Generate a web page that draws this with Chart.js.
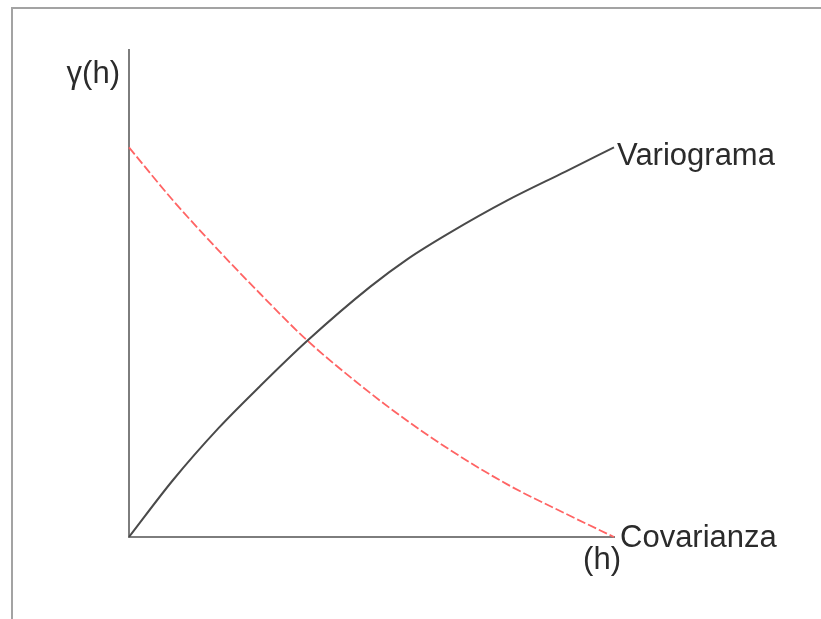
<!DOCTYPE html>
<html>
<head>
<meta charset="utf-8">
<script src="https://cdn.jsdelivr.net/npm/chart.js@4/dist/chart.umd.min.js"></script>
<style>
  html, body { margin: 0; padding: 0; background: #ffffff; }
  #wrap { position: relative; width: 821px; height: 619px; }
</style>
</head>
<body>
<div id="wrap"><canvas id="vario"></canvas></div>
<script>
// lag distance (h)
const lagH = [0, 0.9, 1.85, 2.7, 3.67, 4.97, 5.75, 6.6, 7.8, 9.0, 10];
// semivariance gamma(h)
const variograma = [0, 1.45, 2.8, 3.87, 5.03, 6.42, 7.14, 7.8, 8.64, 9.38, 10];
// covariance C(h)
const covarianza = [10, 8.65, 7.35, 6.25, 5.05, 3.7, 2.97, 2.25, 1.35, 0.6, 0];

const toPoints = (ys) => ys.map((y, i) => ({ x: lagH[i], y: y }));

const FONT = "31px 'Liberation Sans', Arial, sans-serif";
const TEXT = "#2b2b2b";

const labelsPlugin = {
  id: "curveLabels",
  beforeDraw: function (chart) {
    const ctx = chart.ctx;
    // page frame (top and left edges only)
    ctx.save();
    ctx.strokeStyle = "#a3a3a3";
    ctx.lineWidth = 2;
    ctx.beginPath();
    ctx.moveTo(12, chart.height);
    ctx.lineTo(12, 8);
    ctx.lineTo(chart.width, 8);
    ctx.stroke();
    ctx.restore();
  },
  afterDraw: function (chart) {
    const ctx = chart.ctx;
    const xs = chart.scales.x;
    const ys = chart.scales.y;
    const n = lagH.length - 1;
    const endX = xs.getPixelForValue(lagH[n]);
    ctx.save();
    ctx.font = FONT;
    ctx.fillStyle = TEXT;
    ctx.textBaseline = "alphabetic";

    ctx.textAlign = "left";
    ctx.fillText("Variograma", endX + 3, ys.getPixelForValue(variograma[n]) + 18);
    ctx.fillText("Covarianza", endX + 6, ys.getPixelForValue(covarianza[n]) + 10);

    ctx.textAlign = "right";
    ctx.fillText("(h)", endX + 7, ys.bottom + 32);
    ctx.fillText("\u03b3(h)", xs.left - 9, ys.top + 33);
    ctx.restore();
  },
};

new Chart(document.getElementById("vario"), {
  type: "scatter",
  data: {
    datasets: [
      {
        label: "Variograma",
        data: toPoints(variograma),
        showLine: true,
        borderColor: "#4a4a4a",
        borderWidth: 2,
        pointRadius: 0,
        cubicInterpolationMode: "monotone",
        clip: false,
      },
      {
        label: "Covarianza",
        data: toPoints(covarianza),
        showLine: true,
        borderColor: "#ff6464",
        borderWidth: 1.8,
        borderDash: [9, 3],
        pointRadius: 0,
        cubicInterpolationMode: "monotone",
        clip: false,
      },
    ],
  },
  options: {
    responsive: true,
    maintainAspectRatio: false,
    animation: false,
    layout: {
      padding: { left: 121, right: 207, top: 50, bottom: 74 },
    },
    plugins: {
      legend: { display: false },
      tooltip: { enabled: false },
    },
    scales: {
      x: {
        type: "linear",
        min: 0,
        max: 10,
        grid: { display: false },
        ticks: { display: false },
        border: { display: true, color: "#7d7d7d", width: 2 },
      },
      y: {
        type: "linear",
        min: 0,
        max: 12.5,
        grid: { display: false },
        ticks: { display: false },
        border: { display: true, color: "#7d7d7d", width: 2 },
      },
    },
  },
  plugins: [labelsPlugin],
});
</script>
</body>
</html>
